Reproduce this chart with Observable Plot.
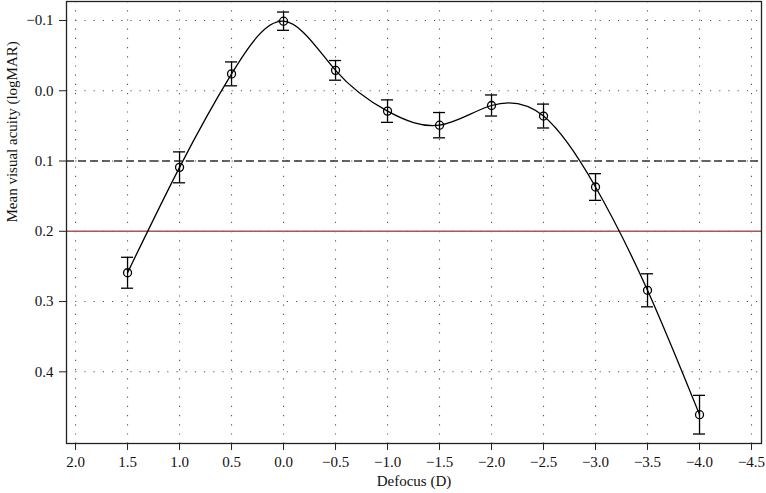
<!DOCTYPE html>
<html>
<head>
<meta charset="utf-8">
<script src="https://cdn.jsdelivr.net/npm/d3@7"></script>
<script src="https://cdn.jsdelivr.net/npm/@observablehq/plot@0.6"></script>
<style>
  html, body { margin: 0; padding: 0; background: #fff; }
  svg { display: block; }
</style>
</head>
<body>
<div id="chart"></div>
<script>
const defocus = [1.5, 1.0, 0.5, 0.0, -0.5, -1.0, -1.5, -2.0, -2.5, -3.0, -3.5, -4.0];
const meanVA  = [0.259, 0.109, -0.024, -0.099, -0.029, 0.029, 0.049, 0.021, 0.036, 0.137, 0.284, 0.461];
const errVA   = [0.022, 0.022, 0.017, 0.013, 0.014, 0.016, 0.018, 0.015, 0.017, 0.019, 0.0235, 0.0275];
const xTicks = [2.0, 1.5, 1.0, 0.5, 0.0, -0.5, -1.0, -1.5, -2.0, -2.5, -3.0, -3.5, -4.0, -4.5];
const yTicks = [-0.1, 0.0, 0.1, 0.2, 0.3, 0.4];
const refDashed = [0.1];
const refRed = [0.2];

const data = defocus.map((d, i) => ({x: d, y: meanVA[i], lo: meanVA[i] - errVA[i], hi: meanVA[i] + errVA[i]}));
const capHalf = 0.058; // cap half-width in dioptres

const fmt = d3.format(".1f");
const font = "'Liberation Serif', 'DejaVu Serif', serif";

const chart = Plot.plot({
  width: 766,
  height: 493,
  marginLeft: 66,
  marginRight: 5,
  marginTop: 1,
  marginBottom: 50,
  style: {fontFamily: font, fontSize: "15px", color: "#111", background: "#fff"},
  x: {domain: [2.087, -4.596], label: null},
  y: {domain: [-0.127, 0.502], reverse: true, label: null},
  marks: [
    Plot.ruleX(xTicks, {stroke: "#555", strokeWidth: 1.1, strokeDasharray: "1.2,8"}),
    Plot.ruleY(yTicks, {stroke: "#555", strokeWidth: 1.1, strokeDasharray: "1.2,8"}),
    Plot.ruleY(refDashed, {stroke: "#333", strokeWidth: 1.3, strokeDasharray: "8,4"}),
    Plot.ruleY(refRed, {stroke: "#a8585c", strokeWidth: 1.4}),
    Plot.line(data, {x: "x", y: "y", curve: "natural", stroke: "#000", strokeWidth: 1.3}),
    Plot.ruleX(data, {x: "x", y1: "lo", y2: "hi", stroke: "#000", strokeWidth: 1.3}),
    Plot.ruleY(data, {y: "lo", x1: d => d.x + capHalf, x2: d => d.x - capHalf, stroke: "#000", strokeWidth: 1.3}),
    Plot.ruleY(data, {y: "hi", x1: d => d.x + capHalf, x2: d => d.x - capHalf, stroke: "#000", strokeWidth: 1.3}),
    Plot.dot(data, {x: "x", y: "y", r: 4, stroke: "#000", strokeWidth: 1.3, fill: "none"}),
    Plot.frame({stroke: "#222", strokeWidth: 1.3}),
    Plot.axisX(xTicks, {ticks: xTicks, tickFormat: fmt, tickSize: 7, tickPadding: 6, label: null, fontSize: 15, stroke: "#222"}),
    Plot.axisY(yTicks, {ticks: yTicks, tickFormat: fmt, tickSize: 7, tickPadding: 6, label: null, fontSize: 15, stroke: "#222"}),
    Plot.text(["Defocus (D)"], {frameAnchor: "bottom", dy: 42, fontSize: 15, fill: "#111"}),
    Plot.text(["Mean visual acuity (logMAR)"], {frameAnchor: "left", dx: -54, rotate: -90, fontSize: 15, fill: "#111"})
  ]
});
document.getElementById("chart").appendChild(chart);
</script>
</body>
</html>
